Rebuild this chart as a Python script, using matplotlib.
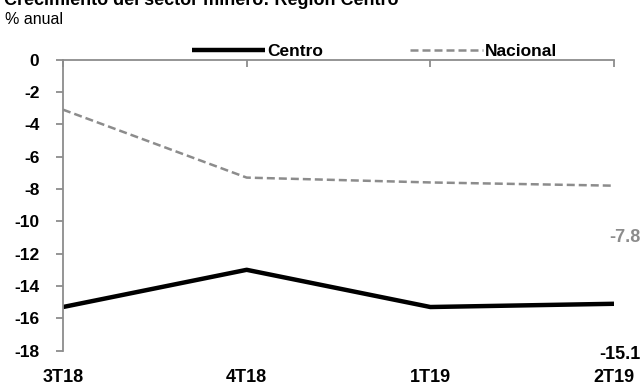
import matplotlib as mpl
from matplotlib import pyplot as plt
import numpy as np

mpl.rcParams['font.family'] = ['Liberation Sans', 'DejaVu Sans']

# %% data
quarters = ['3T18', '4T18', '1T19', '2T19']
centro = [-15.3, -13.0, -15.3, -15.1]
nacional = [-3.1, -7.3, -7.6, -7.8]
yticks = list(range(0, -19, -2))

# %% plot
fig = plt.figure(figsize=(6.43, 3.85), dpi=100)
ax = fig.add_axes([63 / 643, 1 - 350.7 / 385, (614 - 63) / 643, (350.7 - 59.5) / 385])

x = np.arange(len(quarters))
ax.plot(x, centro, color='black', lw=3.2, label='Centro', solid_capstyle='butt')
ax.plot(x, nacional, color='#8c8c8c', lw=1.8, ls=(0, (3.2, 1.6)), label='Nacional')

ax.set_xlim(0, 3)
ax.set_ylim(-18, 0)
ax.set_yticks(yticks)
ax.set_yticklabels([str(v) for v in yticks], fontsize=12.5, fontweight='bold')
ax.set_xticks(x)
ax.set_xticklabels(quarters, fontsize=13, fontweight='bold')

grey = '#8c8c8c'
for s in ['right', 'bottom']:
    ax.spines[s].set_visible(False)
for s in ['top', 'left']:
    ax.spines[s].set_color(grey)
    ax.spines[s].set_linewidth(1.3)
ax.tick_params(axis='y', direction='out', length=5, width=1.3, color=grey, pad=12)
ax.tick_params(axis='x', bottom=False, top=True, labelbottom=True, labeltop=False,
               direction='in', length=5, width=1.3, color=grey, pad=13)

# end-of-series values
ax.annotate('-7.8', (3, nacional[-1]), xytext=(26, -52), textcoords='offset pixels',
            ha='right', va='center', fontsize=13, fontweight='bold', color='#8c8c8c',
            annotation_clip=False)
ax.annotate('-15.1', (3, centro[-1]), xytext=(26, -51), textcoords='offset pixels',
            ha='right', va='center', fontsize=13, fontweight='bold', color='black',
            annotation_clip=False)

leg = ax.legend(loc='center', bbox_to_anchor=(0.566, 1.028), ncol=2, frameon=False,
                prop={'weight': 'bold', 'size': 12.5}, handlelength=4.2,
                handletextpad=0.12, columnspacing=5.0, borderpad=0)

fig.text(0.006, 1 - 5 / 385, 'Crecimiento del sector minero: Región Centro',
         fontsize=13, fontweight='bold', va='baseline')
fig.text(0.008, 1 - 24 / 385, '% anual', fontsize=11.5, va='baseline')

plt.savefig('out.png', dpi=100)
